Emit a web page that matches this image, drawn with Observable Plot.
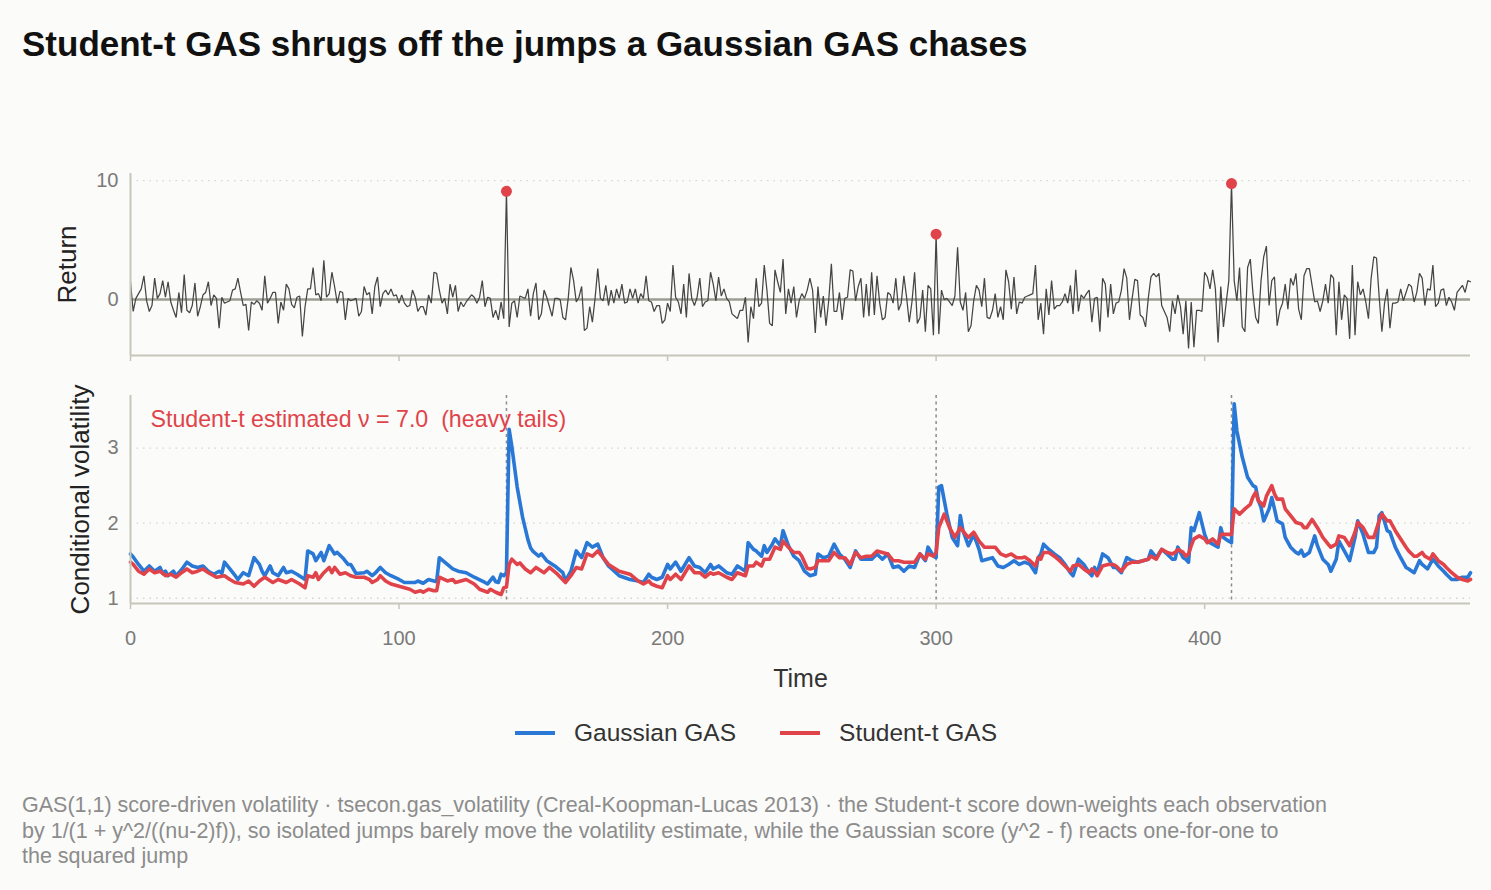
<!DOCTYPE html>
<html>
<head>
<meta charset="utf-8">
<script src="https://cdn.jsdelivr.net/npm/d3@7"></script>
<script src="https://cdn.jsdelivr.net/npm/@observablehq/plot@0.6"></script>
<style>
  html, body { margin: 0; padding: 0; background: #fbfbf9; }
  body { font-family: "Liberation Sans", Arial, sans-serif; }
  #root { position: relative; width: 1491px; height: 890px; overflow: hidden; }
  #title { position: absolute; left: 22px; top: 26px; font-size: 35px; line-height: 35px; font-weight: bold; color: #111; white-space: nowrap; }
  #p1 { position: absolute; left: 0; top: 150px; }
  #p2 { position: absolute; left: 0; top: 370px; }
  #p1 svg, #p2 svg { overflow: visible; background: transparent; }
  #legend { position: absolute; left: 515px; top: 718px; height: 30px; display: flex; justify-content: flex-start; align-items: center; font-size: 24.5px; line-height: 30px; color: #333; white-space: nowrap; }
  .item { display: flex; align-items: center; margin-right: 44px; }
  .swatch { width: 40px; height: 3.5px; margin-right: 19px; }
  #caption { position: absolute; left: 22px; top: 793px; font-size: 21.5px; line-height: 25.5px; color: #8c8c8c; white-space: nowrap; }
</style>
</head>
<body>
<div id="root">
  <div id="title">Student-t GAS shrugs off the jumps a Gaussian GAS chases</div>
  <div id="p1"></div>
  <div id="p2"></div>
  <div id="legend"></div>
  <div id="caption"></div>
</div>
<script>
// ---------------- data ----------------
const returns = [
  1.5,-1.0,0.1,0.5,0.9,2.0,-0.1,-1.0,-0.5,1.8,
  0.1,0.5,1.6,0.2,1.5,-0.2,-0.9,-1.5,0.6,-1.1,
  2.1,-0.9,-1.1,-0.5,1.4,-1.4,-0.6,0.4,0.6,1.5,
  -0.5,0.4,0.1,-2.4,0.2,-0.3,-0.2,-0.1,0.8,0.9,
  1.8,0.6,-0.5,-0.4,-2.6,-0.2,-0.4,-0.1,-0.3,-0.9,
  2.0,-0.3,0.1,0.6,0.6,-2.0,-0.2,-0.9,1.3,0.9,
  -0.4,-0.7,0.2,0.3,-3.1,-0.6,0.9,0.9,2.7,0.4,
  0.5,-0.1,3.3,0.2,0.5,2.3,1.1,-0.3,0.7,0.6,
  -1.7,0.1,-0.1,
  0,0.1,-1.4,-1.0,1.1,0.4,0.6,-1.2,1.1,1.9,
  -0.6,0.5,0.8,0.4,0.9,0.3,0.4,-0.3,0.4,-0.3,
  -0.6,-0.5,0.8,0.2,-1.0,-0.6,-0.6,-1.3,0.4,-0.3,
  2.3,2.2,0.8,-0.3,0.1,-1.2,1.3,0.2,1.2,-1.0,
  -0.2,-0.6,-0.2,0.1,0.4,0.2,-0.3,0.2,1.6,-0.6,
  0.2,0.1,-1.5,-0.9,-1.7,-0.2,-1.6,
  9.1,
  -2.3,-0.3,-0.1,-1.5,0.3,0.2,0.1,0.9,-1.4,0.5,
  1.4,-1.7,-1.2,0.8,0.2,-0.6,-1.4,0.1,0.1,0,
  -1.5,-1.7,0.1,2.7,1.6,-0.2,
  0.2,1.1,-2.6,-2.4,-0.6,-1.9,0.1,2.6,0.1,-0.1,
  1.2,-0.5,0.8,-0.3,0.9,0.1,1.3,-0.3,-0.2,0.9,
  0.1,0.9,-0.3,0.5,0.1,2.0,-0.1,-0.2,-1.0,-0.5,
  -0.5,-2.0,-1.7,-0.3,-1.0,2.9,0.2,-0.2,-1.2,1.3,
  -1.5,2.2,0.1,-0.5,0.2,1.8,-0.6,-0.2,-0.1,2.3,
  1.3,-0.1,1.9,0.3,0.9,0.1,-0.2,-1.2,-1.4,-1.6,
  -0.9,-0.9,0.2,-3.6,-0.6,-1.6,1.8,-0.6,-0.3,2.9,
  0.8,-2.0,-2.2,2.5,1.5,0.6,3.4,-1.2,0.9,-0.3,
  1.1,-1.5,-0.1,
  0.5,0.1,0.8,1.8,0.8,-2.8,1.1,-1.5,0.3,-2.2,
  -0.1,3.0,-1.0,-1.0,0.6,-1.7,0.1,0.2,2.5,2.4,
  -0.1,1.1,1.8,-1.5,1.3,-1.4,2.3,-1.3,2.0,-0.3,
  -1.7,-1.5,0.6,0.4,-0.3,1.8,-0.9,-0.3,2.0,0.2,
  -1.9,-0.2,2.3,-2.0,-1.5,0.8,-2.7,1.2,0.9,-3.0,
  5.5,
  -2.9,0.8,0,0.1,-0.2,-0.5,0.3,4.4,-0.2,-0.9,
  0.6,-2.7,-2.2,-0.1,1.2,0.8,-0.6,1.8,-1.5,-1.6,
  -0.9,0.5,-1.5,-0.6,-1.7,2.5,1.5,-0.8,1.9,-1.2,
  -0.2,-0.3,0.2,0.3,0.4,
  0.5,2.9,-1.7,-0.3,-2.9,0.9,-1.3,1.6,-0.8,-0.5,
  -0.5,-0.2,0.5,-0.3,1.2,-1.2,2.5,-1.0,0.4,0.1,
  0.5,0.8,-1.9,0.1,0.2,-2.7,1.8,1.3,-1.5,1.3,
  -1.2,-0.3,-0.2,0.8,2.6,1.8,-1.7,0.1,1.7,1.6,
  -1.3,-1.5,-2.3,0.1,1.9,2.2,1.9,2.2,-0.5,-1.0,
  -1.5,-2.7,-0.1,-1.2,0.4,-0.6,-2.9,-0.1,-4.1,-0.2,
  -4.0,-0.9,-0.9,-1.0,2.3,1.9,0.9,2.5,0.9,-3.6,
  1.1,-2.3,-0.3,1.6,
  9.75,
  1.6,-0.1,2.7,-2.3,-2.7,2.7,3.4,
  0.5,-1.5,-2.0,1.6,3.6,4.5,-0.5,1.6,1.9,-2.2,
  -0.9,-0.3,1.3,-0.8,1.8,1.2,2.2,-0.8,-1.7,2.0,
  2.6,2.6,1.2,-0.2,-0.1,-1.0,-0.1,1.3,-0.3,2.1,
  1.8,-3.0,1.5,-1.7,0.4,0.1,-3.3,2.9,-3.0,1.5,
  0.4,0.9,-0.2,-1.6,1.8,3.6,3.5,0.2,-2.7,-0.3,
  0.9,-2.4,-0.3,-0.3,-0.2,0.9,-0.1,0.6,1.3,1.1,
  -0.2,0.6,2.2,1.8,-0.5,0.9,0.8,2.9,-0.6,-0.3,
  0.8,0.9,-0.5,0.2,-0.2,-0.9,0.6,0.9,1.2,0.6,
  1.6,1.5
];
const jumpTimes = [140, 300, 410];

const gaussT = [0,1,3,5,7,9,11,12,13,14,16,17,19,21,23,25,27,29,31,33,34,35,37,39,40,42,44,46,48,49,50,52,53,55,57,58,60,62,65,66,68,69,71,72,74,76,77,79,81,82,84,87,88,90,91,93,95,97,100,102,104,106,107,109,111,113,114,115,118,120,122,125,128,132,133,135,136,137,138,139,140,141,142,144,146,148,149,150,152,153,155,158,161,162,164,166,168,170,172,174,176,178,182,186,189,191,193,194,196,198,200,201,203,205,208,210,212,214,216,217,219,222,224,226,229,230,232,233,235,236,237,239,240,242,243,245,247,249,251,253,255,256,258,260,262,264,266,268,270,272,274,276,278,280,282,284,286,288,290,292,294,296,297,299,300,301,302,304,306,308,309,310,312,314,316,317,319,321,323,325,327,329,331,333,335,337,338,339,340,342,344,346,348,350,351,353,355,357,358,359,360,362,364,366,367,369,371,373,375,377,379,380,382,384,386,388,389,390,392,393,394,395,396,398,400,401,403,405,406,407,409,410,411,412,414,416,418,419,420,421,422,424,425,426,427,429,430,432,434,435,436,437,439,441,442,444,446,447,449,450,452,454,456,457,459,461,463,464,465,466,468,469,471,473,475,476,478,480,481,483,485,487,489,490,492,494,496,498,499];
const gaussVol = [1.59,1.55,1.45,1.36,1.43,1.36,1.41,1.33,1.36,1.30,1.36,1.30,1.38,1.48,1.43,1.41,1.43,1.36,1.32,1.36,1.33,1.48,1.39,1.30,1.25,1.34,1.30,1.54,1.45,1.36,1.30,1.43,1.34,1.30,1.41,1.34,1.36,1.32,1.25,1.63,1.59,1.50,1.61,1.50,1.70,1.59,1.61,1.54,1.45,1.45,1.33,1.34,1.36,1.30,1.33,1.41,1.34,1.30,1.25,1.21,1.21,1.21,1.23,1.20,1.25,1.23,1.22,1.54,1.45,1.39,1.36,1.34,1.28,1.21,1.19,1.28,1.22,1.21,1.32,1.30,1.34,3.25,3.02,2.48,2.08,1.78,1.67,1.62,1.56,1.59,1.50,1.43,1.34,1.23,1.36,1.63,1.54,1.74,1.68,1.72,1.54,1.43,1.30,1.25,1.23,1.21,1.32,1.28,1.25,1.28,1.45,1.39,1.48,1.36,1.54,1.43,1.41,1.34,1.45,1.39,1.43,1.34,1.32,1.43,1.36,1.74,1.65,1.63,1.56,1.70,1.61,1.72,1.79,1.70,1.90,1.70,1.56,1.50,1.36,1.30,1.32,1.59,1.54,1.56,1.72,1.59,1.52,1.41,1.63,1.52,1.52,1.52,1.59,1.52,1.59,1.41,1.43,1.36,1.43,1.41,1.59,1.50,1.68,1.56,1.54,2.48,2.50,2.12,1.81,1.70,2.10,1.90,1.70,1.85,1.65,1.50,1.52,1.54,1.43,1.41,1.45,1.50,1.45,1.48,1.45,1.34,1.54,1.59,1.72,1.65,1.59,1.54,1.45,1.34,1.30,1.52,1.45,1.34,1.30,1.41,1.34,1.59,1.54,1.41,1.41,1.34,1.54,1.50,1.48,1.50,1.52,1.63,1.54,1.65,1.59,1.52,1.52,1.68,1.54,1.52,1.48,1.94,1.90,2.14,1.85,1.76,1.72,1.68,1.94,1.81,1.76,1.74,3.59,3.23,2.88,2.61,2.50,2.48,2.30,2.21,2.03,2.19,2.34,2.19,2.03,1.99,1.81,1.68,1.61,1.59,1.64,1.56,1.61,1.83,1.70,1.52,1.45,1.36,1.52,1.76,1.63,1.50,1.81,2.03,1.85,1.61,1.61,1.68,2.10,2.14,1.90,1.88,1.68,1.54,1.41,1.39,1.34,1.50,1.45,1.39,1.52,1.43,1.36,1.32,1.25,1.25,1.28,1.28,1.34];

const studentT = [0,1,3,5,7,9,11,13,15,17,19,21,23,25,27,29,31,32,35,37,39,42,44,46,48,50,53,55,58,60,63,65,66,68,69,70,72,74,75,76,78,80,82,84,87,89,90,92,93,95,97,100,102,104,106,108,109,111,113,114,115,118,120,121,123,125,128,130,133,134,136,138,139,140,141,142,144,145,147,149,151,154,156,159,162,164,166,168,170,172,174,176,178,182,186,189,191,193,194,196,198,200,201,203,205,208,210,212,214,216,217,219,222,224,226,229,230,232,233,235,236,238,240,242,243,245,247,249,250,252,253,255,256,258,260,262,264,266,268,270,272,274,276,278,280,282,284,286,288,290,292,294,296,297,299,300,301,303,305,307,309,311,312,314,316,318,320,322,324,326,328,330,332,333,335,337,338,339,340,342,344,346,348,350,351,353,355,357,358,359,360,362,364,366,367,369,371,373,375,377,379,380,382,384,386,388,389,390,392,393,394,395,396,398,400,401,403,405,406,407,409,410,411,413,415,417,418,419,420,422,423,425,426,427,429,430,432,434,436,437,438,440,442,444,446,447,449,450,452,454,456,457,459,461,463,465,466,468,469,471,473,475,476,478,479,481,482,484,485,487,489,490,492,494,496,498,499];
const studentVol = [1.48,1.45,1.36,1.32,1.39,1.34,1.36,1.30,1.32,1.28,1.34,1.39,1.34,1.36,1.39,1.34,1.30,1.28,1.30,1.25,1.21,1.19,1.23,1.16,1.23,1.28,1.21,1.25,1.21,1.25,1.19,1.14,1.30,1.28,1.34,1.25,1.34,1.41,1.34,1.41,1.32,1.34,1.30,1.28,1.28,1.25,1.21,1.25,1.30,1.23,1.19,1.16,1.14,1.12,1.08,1.10,1.08,1.12,1.10,1.10,1.28,1.23,1.25,1.21,1.23,1.25,1.19,1.12,1.08,1.12,1.08,1.05,1.14,1.15,1.45,1.52,1.45,1.47,1.39,1.34,1.41,1.34,1.41,1.32,1.21,1.30,1.41,1.39,1.59,1.56,1.63,1.54,1.45,1.36,1.32,1.23,1.19,1.23,1.19,1.16,1.14,1.30,1.25,1.32,1.25,1.43,1.34,1.34,1.28,1.34,1.32,1.34,1.28,1.25,1.34,1.30,1.43,1.43,1.48,1.43,1.52,1.52,1.68,1.65,1.76,1.68,1.61,1.61,1.56,1.40,1.39,1.41,1.50,1.50,1.50,1.61,1.54,1.54,1.45,1.61,1.54,1.56,1.56,1.63,1.61,1.59,1.50,1.50,1.48,1.48,1.48,1.59,1.52,1.59,1.56,1.61,1.94,2.12,1.94,1.81,1.94,1.85,1.81,1.88,1.76,1.68,1.68,1.68,1.59,1.56,1.59,1.54,1.54,1.55,1.50,1.43,1.54,1.52,1.61,1.61,1.56,1.50,1.43,1.36,1.43,1.45,1.39,1.34,1.39,1.36,1.30,1.43,1.45,1.45,1.43,1.36,1.45,1.48,1.48,1.50,1.52,1.56,1.52,1.65,1.61,1.59,1.61,1.65,1.61,1.56,1.59,1.70,1.79,1.83,1.79,1.74,1.79,1.72,1.85,1.85,1.85,1.85,2.19,2.12,2.19,2.25,2.35,2.41,2.30,2.23,2.36,2.50,2.39,2.32,2.32,2.19,2.10,2.01,1.99,1.94,1.94,2.05,1.94,1.81,1.72,1.68,1.72,1.83,1.81,1.70,1.88,2.01,1.94,1.81,1.81,2.03,2.12,2.03,2.03,1.90,1.79,1.68,1.63,1.56,1.56,1.61,1.56,1.52,1.59,1.50,1.45,1.41,1.34,1.28,1.25,1.23,1.25];

const xTicks = [0, 100, 200, 300, 400];
const returnTicks = [0, 10];
const volTicks = [1, 2, 3];
const returnDomain = [-4.7, 10.6];
const volDomain = [0.93, 3.7];
const timeDomain = [0, 499];

const seriesNames = ["Gaussian GAS", "Student-t GAS"];
const seriesColors = ["#2a78d6", "#e0434a"];
const annotation = "Student-t estimated \u03bd = 7.0\u00a0\u00a0(heavy tails)";
const captionLines = [
  "GAS(1,1) score-driven volatility \u00b7 tsecon.gas_volatility (Creal-Koopman-Lucas 2013) \u00b7 the Student-t score down-weights each observation",
  "by 1/(1 + y^2/((nu-2)f)), so isolated jumps barely move the volatility estimate, while the Gaussian score (y^2 - f) reacts one-for-one to",
  "the squared jump"
];

// ---------------- build ----------------
const FONT = "'Liberation Sans', Arial, sans-serif";
const axisColor = "#c6c6ba";
const gridColor = "#d6d6ce";
const tickText = "#7a7a7a";

const retData = returns.map((v, i) => ({t: i, v}));
const jumpData = jumpTimes.map(t => ({t, v: returns[t]}));
const gData = gaussT.map((t, i) => ({t, v: gaussVol[i]}));
const sData = studentT.map((t, i) => ({t, v: studentVol[i]}));

const p1 = Plot.plot({
  width: 1491, height: 215,
  marginLeft: 130, marginRight: 21, marginTop: 23, marginBottom: 10,
  style: {background: "transparent", fontFamily: FONT, fontSize: "20px", color: tickText, overflow: "visible"},
  x: {domain: timeDomain},
  y: {domain: returnDomain},
  marks: [
    Plot.ruleY(returnTicks.filter(d => d !== 0), {stroke: gridColor, strokeWidth: 1.3, strokeDasharray: "1.5,5"}),
    Plot.ruleY([0], {stroke: "#9d9d92", strokeWidth: 2.5}),
    Plot.line(retData, {x: "t", y: "v", stroke: "#454545", strokeWidth: 1.25, strokeLinejoin: "miter"}),
    Plot.dot(jumpData, {x: "t", y: "v", r: 5.5, fill: "#e0434a", stroke: "none"}),
    Plot.ruleX([timeDomain[0]], {stroke: axisColor, strokeWidth: 2}),
    Plot.ruleY([returnDomain[0]], {stroke: axisColor, strokeWidth: 2}),
    Plot.axisX({ticks: xTicks, tickSize: 6, tickFormat: () => "", stroke: axisColor, strokeWidth: 1.5, label: null}),
    Plot.axisY({ticks: returnTicks, tickSize: 0, tickPadding: 12, tickFormat: d3.format("d"), label: null, fill: tickText}),
    Plot.text(["Return"], {frameAnchor: "left", dx: -63, rotate: -90, textAnchor: "middle", lineAnchor: "middle", fontSize: 26, fill: "#222"})
  ]
});
document.getElementById("p1").appendChild(p1);

const p2 = Plot.plot({
  width: 1491, height: 323,
  marginLeft: 130, marginRight: 21, marginTop: 25, marginBottom: 90,
  style: {background: "transparent", fontFamily: FONT, fontSize: "20px", color: tickText, overflow: "visible"},
  x: {domain: timeDomain},
  y: {domain: volDomain},
  marks: [
    Plot.ruleY(volTicks, {stroke: gridColor, strokeWidth: 1.3, strokeDasharray: "1.5,5"}),
    Plot.ruleX(jumpTimes, {stroke: "#8c8c8c", strokeWidth: 1.5, strokeDasharray: "3,3.5"}),
    Plot.line(gData, {x: "t", y: "v", stroke: seriesColors[0], strokeWidth: 3.6, strokeLinejoin: "round"}),
    Plot.line(sData, {x: "t", y: "v", stroke: seriesColors[1], strokeWidth: 3.6, strokeLinejoin: "round"}),
    Plot.text([annotation], {frameAnchor: "top-left", dx: 20, dy: 24, textAnchor: "start", lineAnchor: "middle", fontSize: 23.2, fill: seriesColors[1]}),
    Plot.ruleX([timeDomain[0]], {stroke: axisColor, strokeWidth: 2}),
    Plot.ruleY([volDomain[0]], {stroke: axisColor, strokeWidth: 2}),
    Plot.axisX({ticks: xTicks, tickSize: 6, tickPadding: 21, tickFormat: d3.format("d"), stroke: axisColor, strokeWidth: 1.5, fill: tickText, label: null}),
    Plot.axisY({ticks: volTicks, tickSize: 0, tickPadding: 12, tickFormat: d3.format("d"), label: null, fill: tickText}),
    Plot.text(["Conditional volatility"], {frameAnchor: "left", dx: -50, rotate: -90, textAnchor: "middle", lineAnchor: "middle", fontSize: 26, fill: "#222"}),
    Plot.text(["Time"], {frameAnchor: "bottom", dy: 75, lineAnchor: "middle", fontSize: 25, fill: "#333"})
  ]
});
document.getElementById("p2").appendChild(p2);

// legend
const legend = document.getElementById("legend");
seriesNames.forEach((name, i) => {
  const item = document.createElement("div");
  item.className = "item";
  const sw = document.createElement("div");
  sw.className = "swatch";
  sw.style.background = seriesColors[i];
  const lab = document.createElement("span");
  lab.textContent = name;
  item.appendChild(sw);
  item.appendChild(lab);
  legend.appendChild(item);
});

// caption
const cap = document.getElementById("caption");
captionLines.forEach((line) => {
  const d = document.createElement("div");
  d.textContent = line;
  cap.appendChild(d);
});
</script>
</body>
</html>
